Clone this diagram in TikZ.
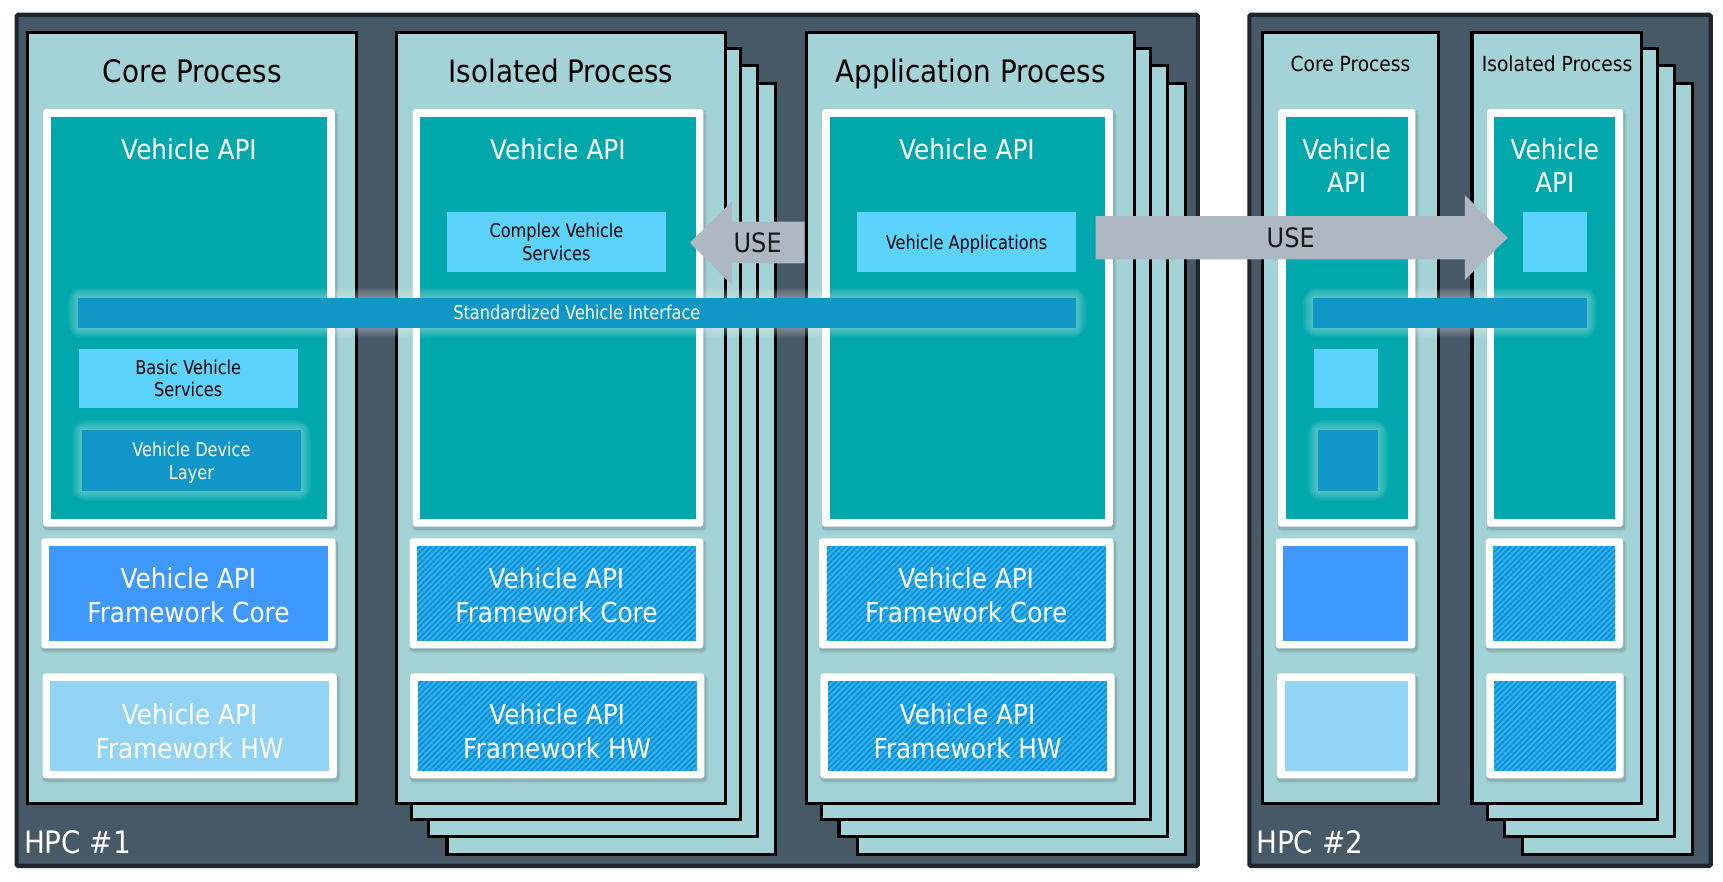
\documentclass[tikz,border=0pt]{standalone}
\usepackage{fontspec}
\setmainfont{DejaVu Sans}[FakeStretch=0.9]
\newfontfamily\smallfam{DejaVu Sans}[FakeStretch=0.85]
\usetikzlibrary{patterns.meta}
\definecolor{hpcfill}{HTML}{475867}
\definecolor{hpcborder}{HTML}{1D262C}
\definecolor{procfill}{HTML}{A3D3D6}
\definecolor{apiteal}{HTML}{00A8AB}
\definecolor{svcbox}{HTML}{5BD3FD}
\definecolor{ifbar}{HTML}{1097C8}
\definecolor{fwcore}{HTML}{3F98FE}
\definecolor{fwhw}{HTML}{93D4F5}
\definecolor{hatchbase}{HTML}{2AB4EF}
\definecolor{hatchline}{HTML}{1488D0}
\definecolor{usearrow}{HTML}{ADB8C2}
\newcommand\WFrame[5]{%
  \fill[black,opacity=0.10,rounded corners=2pt] (#1+0.5,#2+2) rectangle (#3+2,#4+3);
  \fill[black,opacity=0.06,rounded corners=3pt] (#1-0.5,#2+1) rectangle (#3+3.5,#4+4.5);
  \fill[white,rounded corners=2pt] (#1,#2) rectangle (#3,#4);
  \fill[#5] (#1+7,#2+7) rectangle (#3-7,#4-7);}
\newcommand\GlowRect[5]{%
  \foreach \k in {9,7.5,6,4.5,3,1.5} {\fill[white,opacity=0.06,rounded corners=\k pt] (#1-\k,#2-\k) rectangle (#3+\k,#4+\k);}
  \fill[#5] (#1,#2) rectangle (#3,#4);}
\newcommand\ProcStack[4]{%
  \foreach \d in {46,29.5,14} {\draw[procbox] (#1+\d,#2+\d) rectangle (#3+\d,#4+\d);}
  \draw[procbox] (#1,#2) rectangle (#3,#4);}
\begin{document}
\begin{tikzpicture}[x=0.025cm,y=-0.025cm,
  hpc/.style={fill=hpcfill,draw=hpcborder,line width=2.7pt,rounded corners=1pt},
  procbox/.style={fill=procfill,draw=black,line width=2pt},
  hatchfill/.style={fill=hatchbase,postaction={pattern={Lines[angle=45,distance=2.6pt,line width=1.05pt]},pattern color=hatchline}},
  ttl/.style={font=\fontsize{20}{24}\selectfont,text=black,anchor=base,inner sep=0},
  sttl/.style={font=\fontsize{13.4}{16}\selectfont,text=black,anchor=base,inner sep=0},
  api/.style={font=\fontsize{17.8}{21.5}\selectfont,text=white,inner sep=0,align=center},
  fw/.style={font=\fontsize{17.8}{22}\selectfont,text=white,inner sep=0,align=center},
  small/.style={font=\smallfam\fontsize{12.3}{14.5}\selectfont,text=black,inner sep=0,align=center},
  smallw/.style={small,text=white},
  hpclbl/.style={font=\fontsize{20}{23}\selectfont,text=white,anchor=base west,inner sep=0},
  uselbl/.style={font=\fontsize{17.3}{20}\selectfont,text=black!90,anchor=base,inner sep=0}]
\useasboundingbox (0,0) rectangle (1568,802);
\fill[white] (0,0) rectangle (1568,802);
% ---------------- HPC #1 ----------------
\draw[hpc] (15.1,13.4) rectangle (1090.1,788.1);
% Core process
\draw[procbox] (25.4,29.8) rectangle (324.6,731.6);
\WFrame{39.3}{99.2}{304.7}{479.3}{apiteal}
\fill[svcbox] (71.7,317.6) rectangle (271,371.6);
\GlowRect{74.5}{391.3}{273.8}{446.5}{ifbar}
\WFrame{37.6}{489.9}{305.4}{590}{fwcore}
\WFrame{38.7}{612.8}{306.5}{708.3}{fwhw}
\node[ttl] (t1) at (175,75.2) {Core Process};
\node[api,anchor=base] (a1) at (172,145) {Vehicle API};
\node[small] (bvs) at (171.3,344.6) {Basic Vehicle\\Services};
\node[smallw] (vdl) at (174.2,421) {Vehicle Device\\Layer};
\node[fw] (fc1) at (171.5,541.5) {Vehicle API\\Framework Core};
\node[fw] (hw1) at (172.5,665.5) {Vehicle API\\Framework HW};
% Isolated process
\ProcStack{360.8}{29.8}{660}{731.6}
\WFrame{375.4}{99.2}{640}{479.3}{apiteal}
\fill[svcbox] (406.8,193) rectangle (606,247.2);
\WFrame{372.7}{489.9}{640}{590}{hatchfill}
\WFrame{373.2}{612.8}{641}{708.3}{hatchfill}
\node[ttl] (t2) at (510.4,75.2) {Isolated Process};
\node[api,anchor=base] (a2) at (507.7,145) {Vehicle API};
\node[small] (cvs) at (506.4,220) {Complex Vehicle\\Services};
\node[fw] (fc2) at (506.4,541.5) {Vehicle API\\Framework Core};
\node[fw] (hw2) at (507.1,665.5) {Vehicle API\\Framework HW};
% Application process
\ProcStack{734}{29.8}{1032.6}{731.6}
\WFrame{748}{99.2}{1012.7}{479.3}{apiteal}
\fill[svcbox] (780,193) rectangle (979.2,247.2);
\WFrame{745.2}{489.9}{1013.4}{590}{hatchfill}
\WFrame{746.6}{612.8}{1014.4}{708.3}{hatchfill}
\node[ttl] (t3) at (883.3,75.2) {Application Process};
\node[api,anchor=base] (a3) at (880,145) {Vehicle API};
\node[small,anchor=base] (vap) at (879.6,226.9) {Vehicle Applications};
\node[fw] (fc3) at (879.3,541.5) {Vehicle API\\Framework Core};
\node[fw] (hw3) at (880.5,665.5) {Vehicle API\\Framework HW};
% interface bar
\GlowRect{71}{270.9}{979.2}{298.2}{ifbar}
\node[smallw,anchor=base] (svi) at (525,291.2) {Standardized Vehicle Interface};
% USE arrow (left)
\fill[usearrow] (627.8,220.8) -- (666,183.5) -- (666,201.7) -- (732.3,201.7) -- (732.3,239.6) -- (666,239.6) -- (666,259.4) -- cycle;
\node[uselbl] (use1) at (689.5,229.6) {USE};
\node[hpclbl] (h1) at (21.6,776.6) {HPC \#1};
% ---------------- HPC #2 ----------------
\draw[hpc] (1137,13.4) rectangle (1556.9,788.1);
% Core process
\draw[procbox] (1149,29.8) rectangle (1309,731.6);
\WFrame{1163}{99.2}{1288}{479.3}{apiteal}
\fill[svcbox] (1196,317.6) rectangle (1254,371.6);
\GlowRect{1199}{391.3}{1254}{446.5}{ifbar}
\WFrame{1161}{489.9}{1288}{590}{fwcore}
\WFrame{1162}{612.8}{1288}{708.3}{fwhw}
\node[sttl] (t4) at (1229,65.2) {Core Process};
\node[api] (a4) at (1225.5,151) {Vehicle\\API};
% Isolated process
\ProcStack{1339.6}{29.8}{1494.2}{731.6}
\WFrame{1353}{99.2}{1477}{479.3}{apiteal}
\fill[svcbox] (1386,193) rectangle (1444,247.2);
\WFrame{1352}{489.9}{1477}{590}{hatchfill}
\WFrame{1352.6}{612.8}{1477.6}{708.3}{hatchfill}
\node[sttl] (t5) at (1417,65.2) {Isolated Process};
\node[api] (a5) at (1415,151) {Vehicle\\API};
\GlowRect{1195}{270.9}{1444}{298.2}{ifbar}
\node[hpclbl] (h2) at (1143,776.6) {HPC \#2};
% USE arrow (right)
\fill[usearrow] (997,196.6) -- (1333,196.6) -- (1333,177.5) -- (1372,216.3) -- (1333,254.8) -- (1333,236) -- (997,236) -- cycle;
\node[uselbl] (use2) at (1174.6,225) {USE};
\end{tikzpicture}
\end{document}
